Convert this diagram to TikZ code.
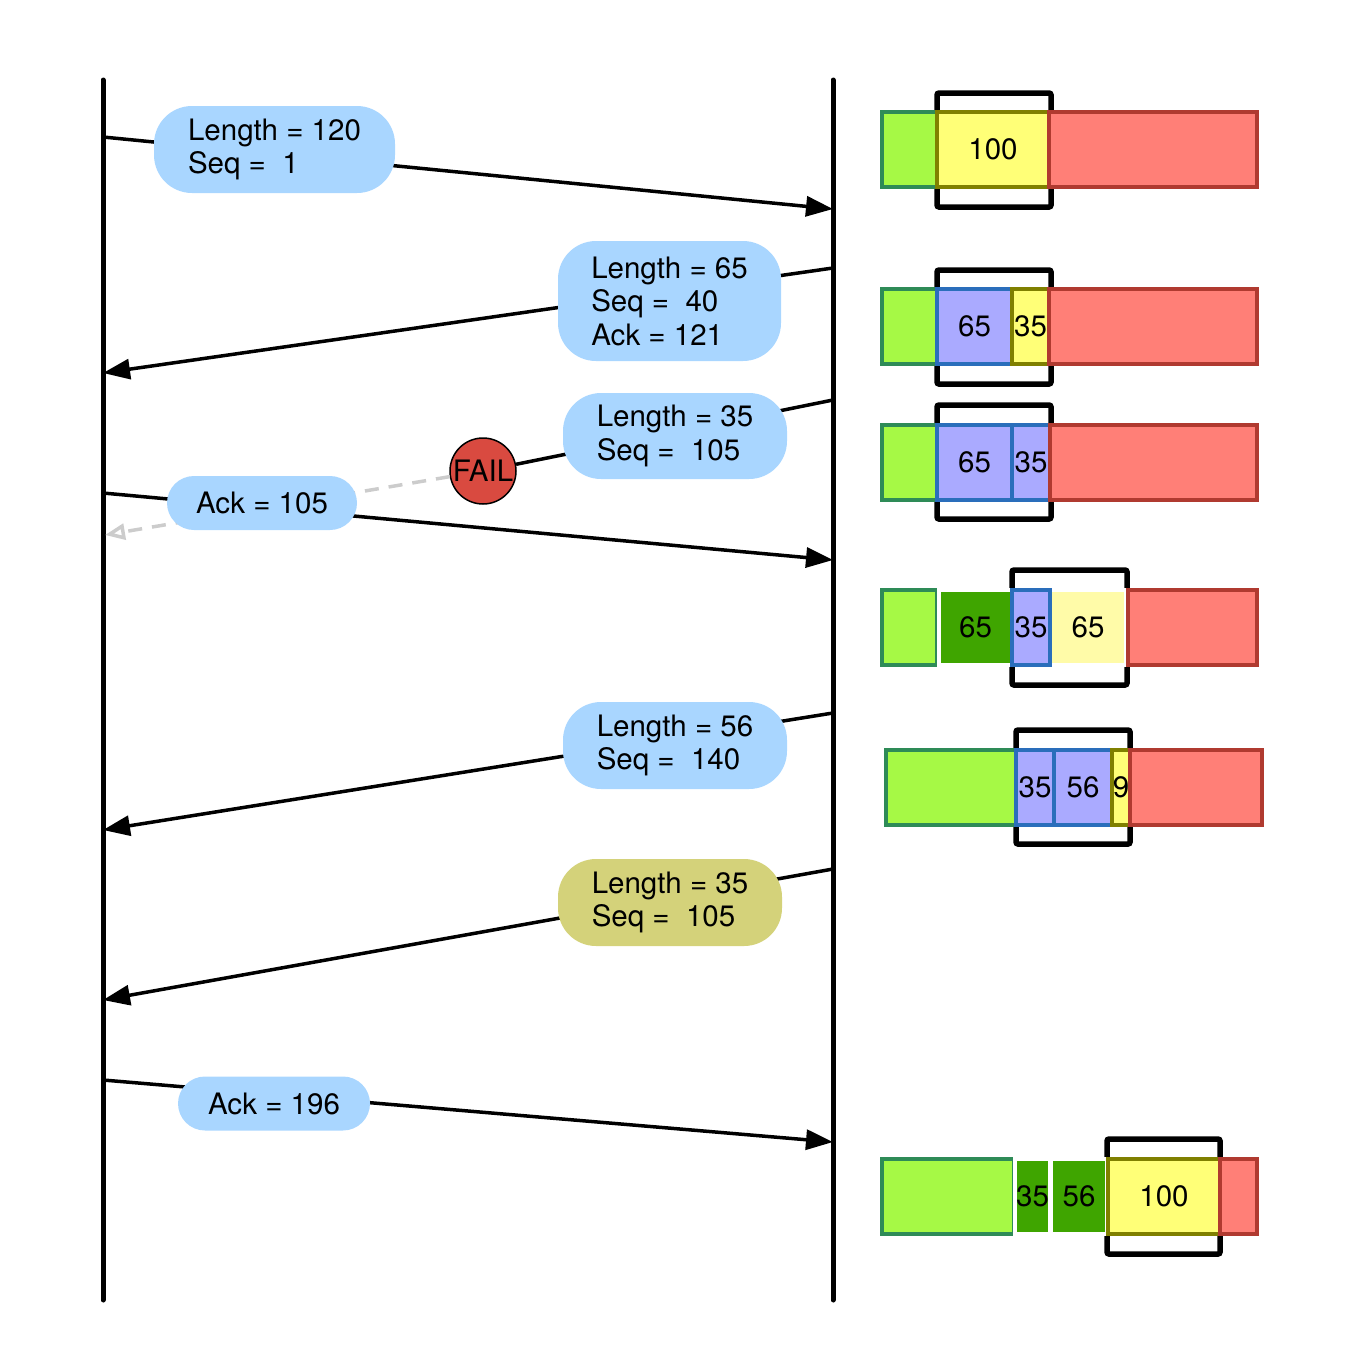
\documentclass[tikz,border=0pt]{standalone}
\usepackage{fontspec}
\setmainfont{TeX Gyre Heros}
\usetikzlibrary{arrows.meta}
\definecolor{bubble}{HTML}{A9D6FF}
\definecolor{retxbubble}{HTML}{D4D27A}
\definecolor{ackedfill}{HTML}{A6F945}
\definecolor{ackededge}{HTML}{2E8B57}
\definecolor{sentfill}{HTML}{FFFF77}
\definecolor{sentedge}{HTML}{808000}
\definecolor{gotfill}{HTML}{AAAAFF}
\definecolor{gotedge}{HTML}{2A6EBB}
\definecolor{freefill}{HTML}{FF7F77}
\definecolor{freeedge}{HTML}{B03A30}
\definecolor{readfill}{HTML}{3FA500}
\definecolor{waitfill}{HTML}{FFFBA8}
\definecolor{failfill}{HTML}{D94A40}

\begin{document}
\begin{tikzpicture}[x=1pt,y=-1pt,
  every node/.style={font=\fontsize{29.5}{33.5}\selectfont},
  lifeline/.style={line width=5pt, line cap=round},
  segment/.style={line width=3.5pt, -{Triangle[length=27pt,width=20pt]}},
  lost/.style={line width=3.5pt, gray!40, dash pattern=on 14pt off 10pt,
    -{Triangle[open,length=20pt,width=16pt]}},
  msg/.style={fill=bubble, rounded corners=38pt, align=left, inner sep=0pt},
  ackmsg/.style={msg, rounded corners=27pt, minimum width=190pt, minimum height=54pt},
  window/.style={draw=black, line width=5.5pt, rounded corners=2pt},
  acked/.style={fill=ackedfill, draw=ackededge, line width=3.5pt},
  sent/.style={fill=sentfill, draw=sentedge, line width=3.5pt},
  got/.style={fill=gotfill, draw=gotedge, line width=3.5pt},
  free/.style={fill=freefill, draw=freeedge, line width=3.5pt},
  read/.style={fill=readfill, draw=white, line width=3.5pt},
  wait/.style={fill=waitfill, draw=white, line width=3.5pt}]
\useasboundingbox (0,0) rectangle (1349,1349);

% the two hosts
\coordinate (hosttop) at (103,80);
\coordinate (hostbot) at (103,1300);
\coordinate (peertop) at (833,80);
\coordinate (peerbot) at (833,1300);
\draw [lifeline] (hosttop) -- (hostbot);
\draw [lifeline] (peertop) -- (peerbot);

% ends of the segments
\coordinate (a1) at (103,137);
\coordinate (b1) at (833,209);
\coordinate (b2) at (833,268);
\coordinate (a2) at (103,373);
\coordinate (b3) at (833,400);
\coordinate (a3) at (105,535);
\coordinate (a4) at (103,493);
\coordinate (b4) at (833,560);
\coordinate (b5) at (833,713);
\coordinate (a5) at (103,830);
\coordinate (b6) at (833,869);
\coordinate (a6) at (103,1000);
\coordinate (a7) at (103,1080);
\coordinate (b7) at (833,1142);

\node [circle, fill=failfill, draw=black, line width=1.5pt, minimum size=66pt,
  inner sep=0pt] (fail) at (483,471) {FAIL};

\draw [segment] (a1) -- (b1);
\draw [segment] (b2) -- (a2);
\draw [line width=3.5pt] (b3) -- (fail);
\draw [lost] (fail) -- (a3);
\draw [segment] (a4) -- (b4);
\draw [segment] (b5) -- (a5);
\draw [segment] (b6) -- (a6);
\draw [segment] (a7) -- (b7);

\node [msg, minimum width=241pt, minimum height=87pt] (m1) at (274.5,149.5)
  {Length = 120\\Seq = \ 1};
\node [msg, minimum width=223pt, minimum height=120pt] (m2) at (669.5,301)
  {Length = 65\\Seq = \ 40\\Ack = 121};
\node [msg, minimum width=224pt, minimum height=86pt] (m3) at (675,436)
  {Length = 35\\Seq = \ 105};
\node [ackmsg] (m4) at (262,503) {Ack = 105};
\node [msg, minimum width=224pt, minimum height=87pt] (m5) at (675,745.5)
  {Length = 56\\Seq = \ 140};
\node [msg, fill=retxbubble, minimum width=224pt, minimum height=87pt] (m6) at (670,902.5)
  {Length = 35\\Seq = \ 105};
\node [ackmsg, minimum width=192pt] (m7) at (274,1103.5) {Ack = 196};

% send buffer after each step
\draw [window] (937,93) rectangle (1051,207);
\draw [acked] (882,112) rectangle (937,187);
\draw [sent] (937,112) rectangle node (w1s) {100} (1049,187);
\draw [free] (1049,112) rectangle (1257,187);

\draw [window] (937,270) rectangle (1051,384);
\draw [acked] (882,289) rectangle (937,364);
\draw [got] (937,289) rectangle node (w2g) {65} (1012,364);
\draw [sent] (1012,289) rectangle node (w2s) {35} (1049,364);
\draw [free] (1049,289) rectangle (1257,364);

\draw [window] (937,405) rectangle (1051,519);
\draw [acked] (882,425) rectangle (937,500);
\draw [got] (937,425) rectangle node (w3g) {65} (1012,500);
\draw [got] (1012,425) rectangle node (w3h) {35} (1050,500);
\draw [free] (1050,425) rectangle (1257,500);

\draw [window] (1012,570) rectangle (1127,685);
\draw [acked] (882,590) rectangle (937,665);
\draw [read] (939,590) rectangle node (w4r) {65} (1012,665);
\draw [wait] (1050,590) rectangle node (w4w) {65} (1126,665);
\draw [got] (1012,590) rectangle node (w4g) {35} (1050,665);
\draw [free] (1128,590) rectangle (1257,665);

\draw [window] (1016,730) rectangle (1130,844);
\draw [acked] (886,750) rectangle (1016,825);
\draw [got] (1016,750) rectangle node (w5g) {35} (1054,825);
\draw [got] (1054,750) rectangle node (w5h) {56} (1112,825);
\draw [sent] (1112,750) rectangle node (w5s) {9} (1130,825);
\draw [free] (1130,750) rectangle (1262,825);

\draw [window] (1107,1139) rectangle (1220,1254);
\draw [acked] (882,1159) rectangle (1014,1234);
\draw [read] (1015,1159) rectangle node (w6r) {35} (1050,1234);
\draw [read] (1051,1159) rectangle node (w6q) {56} (1107,1234);
\draw [sent] (1108,1159) rectangle node (w6s) {100} (1220,1234);
\draw [free] (1220,1159) rectangle (1257,1234);
\end{tikzpicture}
\end{document}
